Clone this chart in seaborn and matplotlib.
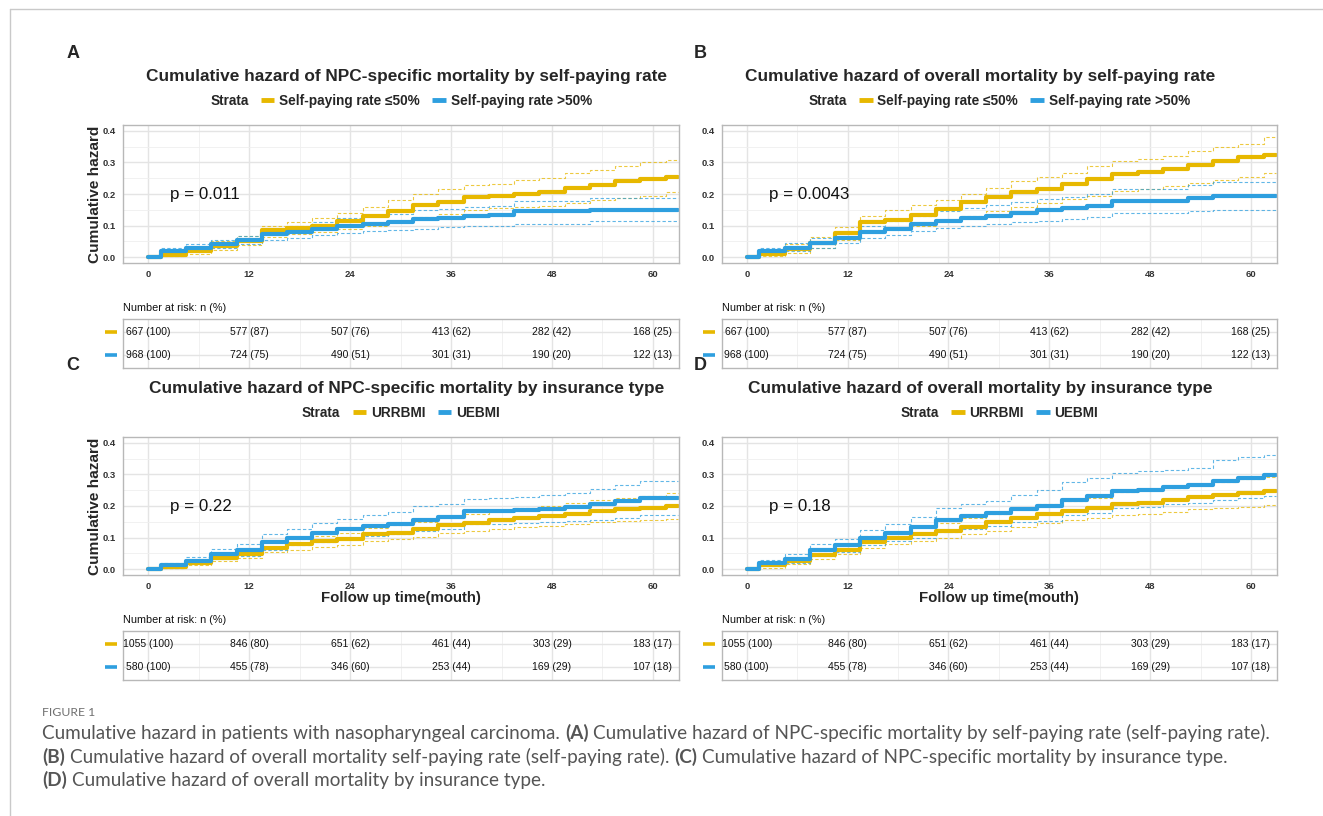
import matplotlib
matplotlib.use("Agg")
import matplotlib.pyplot as plt
import matplotlib.transforms as mtransforms
from matplotlib.lines import Line2D
import pandas as pd
import seaborn as sns

# ---- values (cumulative hazard, every 3 months) ----
months = list(range(0, 64, 3))

# A: NPC-specific mortality by self-paying rate
A_le50_est = [0, 0.008, 0.02, 0.035, 0.052, 0.085, 0.093, 0.1, 0.115, 0.13, 0.145, 0.165, 0.175, 0.19, 0.195, 0.2, 0.206, 0.22, 0.23, 0.24, 0.248, 0.255]
A_le50_lo = [0, 0.003, 0.01, 0.022, 0.038, 0.065, 0.072, 0.08, 0.09, 0.1, 0.113, 0.128, 0.138, 0.15, 0.155, 0.16, 0.163, 0.17, 0.18, 0.188, 0.195, 0.205]
A_le50_hi = [0, 0.015, 0.03, 0.05, 0.068, 0.1, 0.11, 0.125, 0.14, 0.16, 0.18, 0.2, 0.215, 0.23, 0.232, 0.245, 0.25, 0.265, 0.275, 0.29, 0.3, 0.307]
A_gt50_est = [0, 0.018, 0.028, 0.04, 0.053, 0.072, 0.078, 0.09, 0.1, 0.105, 0.11, 0.12, 0.125, 0.13, 0.135, 0.146, 0.146, 0.146, 0.148, 0.148, 0.148, 0.148]
A_gt50_lo = [0, 0.01, 0.018, 0.028, 0.04, 0.055, 0.06, 0.07, 0.077, 0.082, 0.085, 0.09, 0.095, 0.098, 0.1, 0.106, 0.106, 0.106, 0.114, 0.114, 0.114, 0.114]
A_gt50_hi = [0, 0.028, 0.04, 0.055, 0.068, 0.09, 0.1, 0.112, 0.125, 0.13, 0.138, 0.148, 0.153, 0.158, 0.163, 0.177, 0.177, 0.177, 0.187, 0.187, 0.187, 0.187]

# B: overall mortality by self-paying rate
B_le50_est = [0, 0.01, 0.025, 0.045, 0.076, 0.111, 0.116, 0.132, 0.153, 0.175, 0.19, 0.206, 0.217, 0.233, 0.249, 0.262, 0.27, 0.28, 0.291, 0.305, 0.317, 0.323]
B_le50_lo = [0, 0.003, 0.012, 0.028, 0.055, 0.08, 0.09, 0.1, 0.115, 0.13, 0.145, 0.158, 0.17, 0.185, 0.195, 0.21, 0.215, 0.225, 0.235, 0.245, 0.255, 0.265]
B_le50_hi = [0, 0.02, 0.04, 0.065, 0.095, 0.13, 0.15, 0.165, 0.18, 0.2, 0.22, 0.24, 0.255, 0.265, 0.29, 0.305, 0.31, 0.32, 0.335, 0.35, 0.36, 0.38]
B_gt50_est = [0, 0.02, 0.03, 0.045, 0.06, 0.08, 0.09, 0.105, 0.115, 0.125, 0.13, 0.14, 0.15, 0.155, 0.163, 0.178, 0.178, 0.178, 0.187, 0.195, 0.195, 0.195]
B_gt50_lo = [0, 0.01, 0.02, 0.03, 0.045, 0.062, 0.07, 0.083, 0.093, 0.1, 0.105, 0.11, 0.115, 0.12, 0.127, 0.14, 0.14, 0.14, 0.145, 0.15, 0.15, 0.15]
B_gt50_hi = [0, 0.03, 0.045, 0.06, 0.075, 0.1, 0.115, 0.13, 0.145, 0.155, 0.165, 0.175, 0.185, 0.19, 0.2, 0.215, 0.215, 0.215, 0.23, 0.237, 0.237, 0.237]

# C: NPC-specific mortality by insurance type
C_urr_est = [0, 0.008, 0.02, 0.035, 0.047, 0.068, 0.078, 0.089, 0.096, 0.11, 0.115, 0.126, 0.14, 0.147, 0.156, 0.163, 0.168, 0.176, 0.184, 0.19, 0.195, 0.2]
C_urr_lo = [0, 0.003, 0.013, 0.025, 0.035, 0.053, 0.062, 0.07, 0.077, 0.088, 0.095, 0.102, 0.115, 0.12, 0.128, 0.133, 0.138, 0.143, 0.148, 0.152, 0.155, 0.16]
C_urr_hi = [0, 0.015, 0.028, 0.047, 0.06, 0.085, 0.095, 0.105, 0.115, 0.13, 0.14, 0.15, 0.165, 0.175, 0.185, 0.195, 0.2, 0.21, 0.218, 0.225, 0.232, 0.242]
C_ueb_est = [0, 0.012, 0.025, 0.048, 0.06, 0.085, 0.1, 0.115, 0.128, 0.138, 0.142, 0.157, 0.165, 0.183, 0.185, 0.188, 0.192, 0.197, 0.205, 0.215, 0.225, 0.225]
C_ueb_lo = [0, 0.005, 0.015, 0.032, 0.042, 0.062, 0.075, 0.085, 0.097, 0.105, 0.11, 0.12, 0.127, 0.142, 0.143, 0.145, 0.148, 0.152, 0.155, 0.163, 0.17, 0.17]
C_ueb_hi = [0, 0.02, 0.038, 0.065, 0.08, 0.11, 0.128, 0.145, 0.16, 0.172, 0.18, 0.2, 0.205, 0.222, 0.225, 0.23, 0.235, 0.24, 0.255, 0.268, 0.28, 0.28]

# D: overall mortality by insurance type
D_urr_est = [0, 0.012, 0.025, 0.045, 0.062, 0.085, 0.097, 0.11, 0.12, 0.135, 0.148, 0.162, 0.175, 0.185, 0.195, 0.205, 0.21, 0.218, 0.228, 0.235, 0.24, 0.247]
D_urr_lo = [0, 0.005, 0.015, 0.032, 0.048, 0.068, 0.078, 0.088, 0.098, 0.11, 0.122, 0.135, 0.146, 0.155, 0.163, 0.172, 0.175, 0.18, 0.19, 0.195, 0.198, 0.202]
D_urr_hi = [0, 0.02, 0.035, 0.058, 0.077, 0.105, 0.118, 0.133, 0.145, 0.162, 0.175, 0.19, 0.205, 0.215, 0.225, 0.243, 0.25, 0.258, 0.265, 0.275, 0.285, 0.293]
D_ueb_est = [0, 0.02, 0.032, 0.06, 0.075, 0.1, 0.115, 0.135, 0.155, 0.168, 0.178, 0.19, 0.2, 0.22, 0.232, 0.248, 0.25, 0.26, 0.268, 0.28, 0.29, 0.298]
D_ueb_lo = [0, 0.01, 0.02, 0.04, 0.055, 0.075, 0.088, 0.1, 0.117, 0.128, 0.138, 0.148, 0.152, 0.17, 0.178, 0.195, 0.198, 0.205, 0.21, 0.22, 0.226, 0.232]
D_ueb_hi = [0, 0.03, 0.047, 0.08, 0.095, 0.125, 0.143, 0.165, 0.195, 0.205, 0.215, 0.235, 0.25, 0.275, 0.29, 0.305, 0.31, 0.315, 0.32, 0.345, 0.355, 0.363]

# number at risk tables
risk_months = [0, 12, 24, 36, 48, 60]
n_le50 = [667, 577, 507, 413, 282, 168]
pct_le50 = [100, 87, 76, 62, 42, 25]
n_gt50 = [968, 724, 490, 301, 190, 122]
pct_gt50 = [100, 75, 51, 31, 20, 13]
n_urrbmi = [1055, 846, 651, 461, 303, 183]
pct_urrbmi = [100, 80, 62, 44, 29, 17]
n_uebmi = [580, 455, 346, 253, 169, 107]
pct_uebmi = [100, 78, 60, 44, 29, 18]

strata_rate = ["Self-paying rate ≤50%", "Self-paying rate >50%"]
strata_ins = ["URRBMI", "UEBMI"]
titles = [
    "Cumulative hazard of NPC-specific mortality by self-paying rate",
    "Cumulative hazard of overall mortality by self-paying rate",
    "Cumulative hazard of NPC-specific mortality by insurance type",
    "Cumulative hazard of overall mortality by insurance type",
]
pvalues = ["p = 0.011", "p = 0.0043", "p = 0.22", "p = 0.18"]

YELLOW, BLUE = "#E7B800", "#2E9FDF"
W, H = 1323, 816

sns.set_theme(style="white")
plt.rcParams["font.family"] = ["Liberation Sans", "DejaVu Sans"]
TICK_FONT = ["Liberation Sans Narrow", "Liberation Sans", "DejaVu Sans"]


def rect(l, t, r, b):
    return [l / W, 1 - b / H, (r - l) / W, (b - t) / H]


def make_df(strata, curves):
    frames = []
    for name, (est, lo, hi) in zip(strata, curves):
        frames.append(pd.DataFrame({"month": months, "strata": name,
                                    "est": est, "lower": lo, "upper": hi}))
    return pd.concat(frames, ignore_index=True)


def risk_text(n, pct):
    return [f"{a} ({b})" for a, b in zip(n, pct)]


panels = [
    dict(letter="A", title=titles[0], strata=strata_rate, pval=pvalues[0],
         df=make_df(strata_rate, [(A_le50_est, A_le50_lo, A_le50_hi), (A_gt50_est, A_gt50_lo, A_gt50_hi)]),
         risk=[risk_text(n_le50, pct_le50), risk_text(n_gt50, pct_gt50)],
         col=0, row=0, ylabel=True, xlabel=False),
    dict(letter="B", title=titles[1], strata=strata_rate, pval=pvalues[1],
         df=make_df(strata_rate, [(B_le50_est, B_le50_lo, B_le50_hi), (B_gt50_est, B_gt50_lo, B_gt50_hi)]),
         risk=[risk_text(n_le50, pct_le50), risk_text(n_gt50, pct_gt50)],
         col=1, row=0, ylabel=False, xlabel=False),
    dict(letter="C", title=titles[2], strata=strata_ins, pval=pvalues[2],
         df=make_df(strata_ins, [(C_urr_est, C_urr_lo, C_urr_hi), (C_ueb_est, C_ueb_lo, C_ueb_hi)]),
         risk=[risk_text(n_urrbmi, pct_urrbmi), risk_text(n_uebmi, pct_uebmi)],
         col=0, row=1, ylabel=True, xlabel=True),
    dict(letter="D", title=titles[3], strata=strata_ins, pval=pvalues[3],
         df=make_df(strata_ins, [(D_urr_est, D_urr_lo, D_urr_hi), (D_ueb_est, D_ueb_lo, D_ueb_hi)]),
         risk=[risk_text(n_urrbmi, pct_urrbmi), risk_text(n_uebmi, pct_uebmi)],
         col=1, row=1, ylabel=False, xlabel=True),
]

# layout in pixels
COL_L = [123, 721.6]
COL_R = [679, 1277]
LETTER_X = [73, 700]
TITLE_X = [407, 980]
ROW_OFF = [0, 312]

fig = plt.figure(figsize=(W / 100, H / 100), dpi=100)
fig.patch.set_facecolor("white")

# page frame lines
fig.add_artist(Line2D([10 / W, 10 / W], [0, 1 - 9 / H], color="#c9c9c9", lw=1))
fig.add_artist(Line2D([10 / W, 1], [1 - 9 / H, 1 - 9 / H], color="#c9c9c9", lw=1))


def style_grid(ax):
    ax.set_xlim(-3, 63.1)
    ax.set_xticks([0, 12, 24, 36, 48, 60])
    ax.set_xticks([6, 18, 30, 42, 54], minor=True)
    ax.grid(which="major", color="#E4E4E4", lw=1.0)
    ax.grid(which="minor", color="#EFEFEF", lw=0.6)
    ax.set_axisbelow(True)
    for s in ax.spines.values():
        s.set_color("#B8B8B8")
        s.set_linewidth(1.0)


for p in panels:
    c, off = p["col"], ROW_OFF[p["row"]]
    l, r = COL_L[c], COL_R[c]
    palette = dict(zip(p["strata"], [YELLOW, BLUE]))

    ax = fig.add_axes(rect(l, 124.6 + off, r, 263.4 + off))
    for col in ["lower", "upper"]:
        sns.lineplot(data=p["df"], x="month", y=col, hue="strata", hue_order=p["strata"],
                     palette=palette, estimator=None, drawstyle="steps-mid",
                     linewidth=0.8, linestyle=(0, (3, 2)), alpha=0.75, legend=False, ax=ax)
    sns.lineplot(data=p["df"], x="month", y="est", hue="strata", hue_order=p["strata"],
                 palette=palette, estimator=None, drawstyle="steps-mid",
                 linewidth=3.0, legend=False, ax=ax)
    style_grid(ax)
    ax.set_ylim(-0.02, 0.42)
    ax.set_yticks([0, 0.1, 0.2, 0.3, 0.4], labels=["0.0", "0.1", "0.2", "0.3", "0.4"])
    ax.set_yticks([0.05, 0.15, 0.25, 0.35], minor=True)
    ax.set_xticks([0, 12, 24, 36, 48, 60], labels=["0", "12", "24", "36", "48", "60"])
    ax.tick_params(which="major", length=3, width=0.8, color="#444444", labelsize=6.8,
                   labelcolor="#333333", pad=2)
    ax.tick_params(which="minor", length=0)
    for lab in ax.get_xticklabels() + ax.get_yticklabels():
        lab.set_family(TICK_FONT)
        lab.set_weight("bold")
    ax.set_xlabel("")
    ax.set_ylabel("")
    ax.text(2.6, 0.2, p["pval"], fontsize=12.2, va="center", ha="left", color="#111111")

    if p["ylabel"]:
        fig.text(95 / W, 1 - (194 + off) / H, "Cumulative hazard", rotation=90,
                 ha="center", va="center", fontsize=11.1, fontweight="bold")
    if p["xlabel"]:
        fig.text(((l + r) / 2) / W, 1 - 598 / H, "Follow up time(mouth)",
                 ha="center", va="center", fontsize=10.8, fontweight="bold")

    fig.text(LETTER_X[c] / W, 1 - (54 + off) / H, p["letter"], ha="center", va="center",
             fontsize=13, fontweight="bold")
    fig.text(TITLE_X[c] / W, 1 - (76 + off) / H, p["title"], ha="center", va="center",
             fontsize=12.4, fontweight="bold")

    handles = [Line2D([], [], lw=0)] + [Line2D([], [], color=col, lw=3.5, solid_capstyle="butt")
                                      for col in (YELLOW, BLUE)]
    fsz = 9.8
    shift = (1.0 + 0.35) * fsz * 100 / 72 / 2
    fig.legend(handles, ["Strata"] + p["strata"], loc="center", ncol=3, frameon=False,
               bbox_to_anchor=(((l + r) / 2 - shift) / W, 1 - (101 + off) / H),
               prop=dict(weight="bold", size=fsz), handlelength=1.0, handletextpad=0.35,
               columnspacing=0.9, borderpad=0, borderaxespad=0)

    # number-at-risk table
    tx = fig.add_axes(rect(l, 319 + off, r, 368 + off))
    style_grid(tx)
    tx.set_ylim(0.45, 2.58)
    tx.set_yticks([1, 2])
    tx.tick_params(which="both", length=0, labelbottom=False, labelleft=False)
    for yrow, labels, color in zip([2, 1], p["risk"], [YELLOW, BLUE]):
        for m, s in zip(risk_months, labels):
            tx.text(m, yrow, s, ha="center", va="center", fontsize=7.5, color="#111111")
        trans = mtransforms.blended_transform_factory(tx.transAxes, tx.transData)
        tx.plot([-0.033, -0.011], [yrow, yrow], transform=trans, color=color, lw=2.6,
                solid_capstyle="butt", clip_on=False)
    tx.annotate("Number at risk: n (%)", xy=(0, 1), xycoords="axes fraction",
                xytext=(0, 8), textcoords="offset points", ha="left", va="center",
                fontsize=7.8, color="#111111")

# caption
CAP_FONT = ["Lato", "DejaVu Sans"]
fig.text(42 / W, 1 - 712 / H, "FIGURE 1", family=CAP_FONT, fontsize=8.8,
         color="#707070", va="center", ha="left")
caption_lines = [
    [("Cumulative hazard in patients with nasopharyngeal carcinoma.", False), ("(A)", True),
     ("Cumulative hazard of NPC-specific mortality by self-paying rate (self-paying rate).", False)],
    [("(B)", True), ("Cumulative hazard of overall mortality self-paying rate (self-paying rate).", False),
     ("(C)", True), ("Cumulative hazard of NPC-specific mortality by insurance type.", False)],
    [("(D)", True), ("Cumulative hazard of overall mortality by insurance type.", False)],
]
caption_y = [739, 763, 786]
cap_size = 13.6
renderer = fig.canvas.get_renderer()
probe1 = fig.text(0, 0, "a a", family=CAP_FONT, fontsize=cap_size)
probe2 = fig.text(0, 0, "aa", family=CAP_FONT, fontsize=cap_size)
space_px = probe1.get_window_extent(renderer).width - probe2.get_window_extent(renderer).width
probe1.remove()
probe2.remove()
for pieces, yb in zip(caption_lines, caption_y):
    x = 42
    for text, bold in pieces:
        t = fig.text(x / W, 1 - yb / H, text, family=CAP_FONT, fontsize=cap_size,
                     fontweight="bold" if bold else "normal", color="#555555",
                     ha="left", va="baseline")
        x += t.get_window_extent(renderer).width + space_px

fig.savefig("out.png", dpi=100, facecolor="white")
